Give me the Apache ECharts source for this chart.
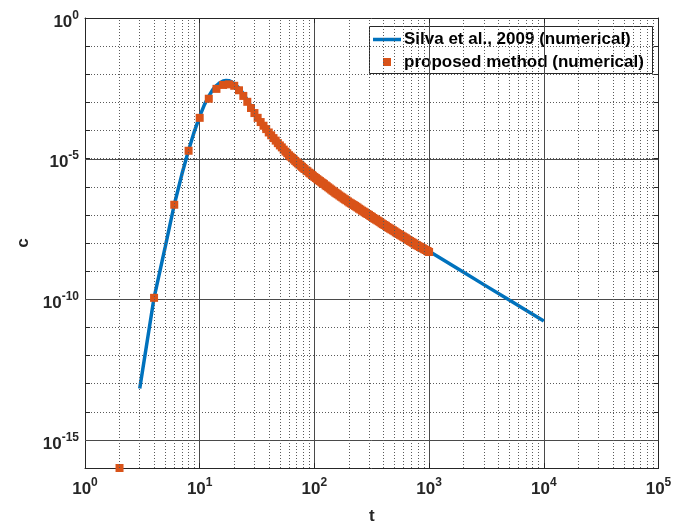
<!DOCTYPE html>
<html><head><meta charset="utf-8">
<script src="https://cdn.jsdelivr.net/npm/echarts@6/dist/echarts.min.js"></script>
<style>html,body{margin:0;padding:0;background:#fff}#c{width:690px;height:530px}</style>
</head><body><div id="c"></div>
<script>
// ---- data ----
const seriesNames = ['Silva et al., 2009 (numerical)', 'proposed method (numerical)'];
const xTickExponents = [0, 1, 2, 3, 4, 5];
const yTickExponents = [-15, -10, -5, 0];
const xMinorMantissas = [2, 3, 4, 5, 6, 7, 8, 9];

// Silva et al. curve: t and log10(c)
const silvaT = [3,4,5,6,7,8,9,10,11,12,13,14,15,16,17,18,19,20,22,24,26,28,30,32,34,37,40,45,50,60,70,80,90,100,125,150,200,250,300,400,500,600,800,1000,2000,3000,5000,7000,10000];
const silvaLog10C = [-13.17,-9.95,-8.15,-6.64,-5.55,-4.70,-4.02,-3.50,-3.08,-2.78,-2.55,-2.40,-2.30,-2.24,-2.22,-2.23,-2.27,-2.33,-2.49,-2.69,-2.91,-3.13,-3.33,-3.51,-3.67,-3.86,-4.04,-4.29,-4.50,-4.85,-5.10,-5.30,-5.47,-5.62,-5.92,-6.16,-6.51,-6.77,-6.98,-7.31,-7.56,-7.76,-8.07,-8.29,-9.04,-9.48,-10.03,-10.39,-10.77];

// proposed method markers: t and log10(c)
const propT = [2,4,6,8,10,12,14,16,18,20,22,24,26,28,30,32,34,36,38,40,42,44,46,48,50,52,54,56,58,
  60,62,64,66,68,70,72,74,76,78,80,82,85,87,90,92,95,97,100,103,106,109,112,115,118,121,125,128,132,136,140,144,148,152,156,160,165,170,175,180,185,190,196,202,208,214,220,226,232,238,245,252,260,268,275,282,290,299,308,317,326,335,345,355,365,375,385,396,408,420,432,444,457,470,484,498,512,527,542,558,574,591,608,626,644,663,682,702,722,743,764,786,808,832,856,881,906,933,960,980,1000];
const propLog10C = [-16,-9.95,-6.64,-4.72,-3.55,-2.87,-2.52,-2.38,-2.36,-2.41,-2.57,-2.77,-2.98,-3.20,-3.38,-3.55,-3.70,-3.83,-3.95,-4.07,-4.17,-4.27,-4.36,-4.45,-4.53,-4.60,-4.68,-4.75,-4.81,
  -4.88,-4.93,-4.98,-5.03,-5.08,-5.13,-5.17,-5.21,-5.25,-5.29,-5.33,-5.37,-5.42,-5.45,-5.50,-5.53,-5.58,-5.61,-5.65,-5.69,-5.73,-5.77,-5.80,-5.84,-5.87,-5.90,-5.95,-5.98,-6.02,-6.06,-6.10,-6.14,-6.17,-6.21,-6.24,-6.27,-6.31,-6.35,-6.38,-6.42,-6.45,-6.48,-6.52,-6.56,-6.59,-6.62,-6.65,-6.68,-6.71,-6.74,-6.78,-6.81,-6.85,-6.88,-6.91,-6.94,-6.97,-7.00,-7.04,-7.07,-7.11,-7.14,-7.17,-7.20,-7.23,-7.26,-7.30,-7.33,-7.36,-7.39,-7.43,-7.46,-7.49,-7.52,-7.55,-7.58,-7.62,-7.65,-7.68,-7.71,-7.74,-7.77,-7.80,-7.83,-7.87,-7.90,-7.93,-7.96,-7.99,-8.02,-8.06,-8.08,-8.11,-8.14,-8.17,-8.19,-8.22,-8.25,-8.28,-8.30,-8.32];

// ---- build ----
const FONT = '"Liberation Sans", Arial, Helvetica, sans-serif';
const AX = '#262626';
const BLUE = '#0072BD', ORANGE = '#D95319';
const silvaData = silvaT.map((t, i) => [t, Math.pow(10, silvaLog10C[i])]);
const propData = propT.map((t, i) => [t, Math.pow(10, propLog10C[i])]);

const rich = {
  b: {fontSize: 17, fontWeight: 'bold', fontFamily: FONT, color: AX, lineHeight: 17, padding: [8, 0, 0, 0]},
  s: {fontSize: 12, fontWeight: 'bold', fontFamily: FONT, color: AX, lineHeight: 12, padding: [4, 0, 9, 0]}
};
function expLabel(list) {
  return function (v) {
    const e = Math.round(Math.log10(v));
    return list.indexOf(e) >= 0 ? '{b|10}{s|' + e + '}' : '';
  };
}

const xMinorLines = [];
for (let k = xTickExponents[0]; k < xTickExponents[xTickExponents.length - 1]; k++) {
  xMinorMantissas.forEach(m => xMinorLines.push({xAxis: m * Math.pow(10, k)}));
}
const yMajorData = yTickExponents.filter(e => e > -16 && e < 0).map(e => [1, Math.pow(10, e)]);

const chart = echarts.init(document.getElementById('c'), null, {renderer: 'canvas'});
chart.setOption({
  animation: false,
  backgroundColor: '#fff',
  grid: {left: 85, top: 18, width: 573.5, height: 451.3, containLabel: false},
  xAxis: [{
    type: 'log', logBase: 10, min: 1, max: 1e5, interval: 1,
    name: 't', nameLocation: 'middle', nameGap: 40,
    nameTextStyle: {fontSize: 17, fontWeight: 'bold', fontFamily: FONT, color: AX},
    axisLine: {show: true, lineStyle: {color: AX, width: 1}},
    axisTick: {show: true, inside: true, length: 5, lineStyle: {color: AX}},
    axisLabel: {show: true, margin: 9, formatter: expLabel(xTickExponents), rich: rich},
    splitLine: {show: true, lineStyle: {color: '#4a4a4a', width: 1, type: 'solid'}},
    minorTick: {show: false},
    minorSplitLine: {show: false}
  }, {
    type: 'log', logBase: 10, min: 1, max: 1e5, interval: 1, position: 'top',
    axisLine: {show: true, lineStyle: {color: AX, width: 1}},
    axisTick: {show: true, inside: true, length: 5, lineStyle: {color: AX}},
    axisLabel: {show: false}, splitLine: {show: false}
  }],
  yAxis: [{
    type: 'log', logBase: 10, min: 1e-16, max: 1, interval: 1,
    name: 'c', nameLocation: 'middle', nameGap: 52, nameRotate: 90,
    nameTextStyle: {fontSize: 17, fontWeight: 'bold', fontFamily: FONT, color: AX},
    axisLine: {show: true, lineStyle: {color: AX, width: 1}},
    axisTick: {show: true, inside: true, length: 5, lineStyle: {color: AX}},
    axisLabel: {show: true, margin: 6, formatter: expLabel(yTickExponents), rich: rich},
    splitLine: {show: true, lineStyle: {color: '#5a5a5a', width: 1, type: [1, 2]}}
  }, {
    type: 'log', logBase: 10, min: 1e-16, max: 1, interval: 1, position: 'right',
    axisLine: {show: true, lineStyle: {color: AX, width: 1}},
    axisTick: {show: true, inside: true, length: 5, lineStyle: {color: AX}},
    axisLabel: {show: false}, splitLine: {show: false}
  }],
  graphic: [{
    type: 'group', left: 369, top: 26, z: 100,
    children: [
      {type: 'rect', shape: {x: 0.5, y: 0.5, width: 283, height: 47}, style: {fill: '#fff', stroke: AX, lineWidth: 1}},
      {type: 'line', shape: {x1: 4, y1: 13.5, x2: 32, y2: 13.5}, style: {stroke: BLUE, lineWidth: 3.5}},
      {type: 'rect', shape: {x: 14, y: 32, width: 8, height: 8}, style: {fill: ORANGE}},
      {type: 'text', x: 35, y: 13.5, style: {text: seriesNames[0], fontSize: 17, fontWeight: 'bold', fontFamily: FONT, fill: '#000', verticalAlign: 'middle'}},
      {type: 'text', x: 35, y: 36, style: {text: seriesNames[1], fontSize: 17, fontWeight: 'bold', fontFamily: FONT, fill: '#000', verticalAlign: 'middle'}}
    ]
  }],
  series: [{
    type: 'line', name: 'minor x grid', data: [], z: 1, silent: true,
    markLine: {silent: true, symbol: ['none', 'none'], label: {show: false}, animation: false,
      lineStyle: {color: '#5a5a5a', width: 1, type: [1, 2]},
      data: xMinorLines}
  }, {
    type: 'custom', name: 'major y grid', data: yMajorData, z: 1, silent: true, clip: false,
    renderItem: function (params, api) {
      const p = api.coord([api.value(0), api.value(1)]);
      const y = Math.round(p[1]) + 0.5;
      const cs = params.coordSys;
      return {type: 'line', shape: {x1: cs.x, y1: y, x2: cs.x + cs.width, y2: y},
        style: {stroke: '#4a4a4a', lineWidth: 1}};
    }
  }, {
    type: 'line', name: seriesNames[0], data: silvaData,
    symbol: 'none', smooth: false, z: 3,
    lineStyle: {color: BLUE, width: 3.5},
    itemStyle: {color: BLUE}
  }, {
    type: 'scatter', name: seriesNames[1], data: propData,
    symbol: 'rect', symbolSize: 8, clip: false, z: 4,
    itemStyle: {color: ORANGE, opacity: 1}
  }]
});
</script>
</body></html>
